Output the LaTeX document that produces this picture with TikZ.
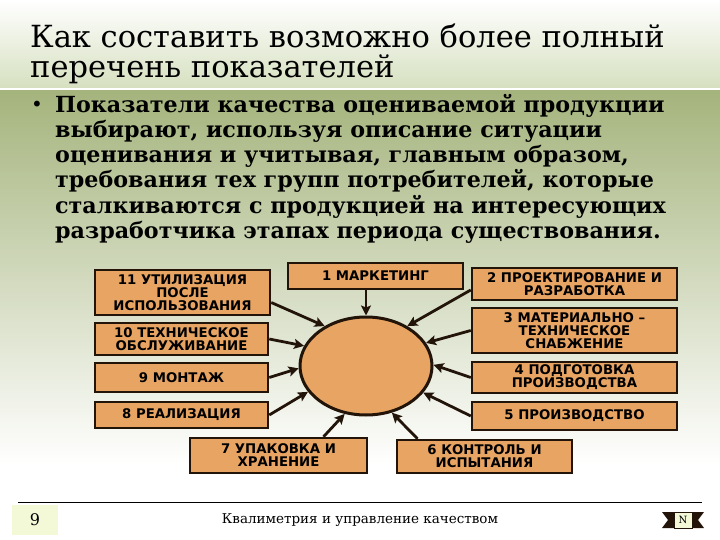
\documentclass[tikz,border=0pt]{standalone}
\usepackage{fontspec}
\setmainfont{DejaVu Serif}
\newfontfamily\boxfont{DejaVu Sans}
\usepackage{tikz}
\usetikzlibrary{shapes.geometric, arrows.meta}

\definecolor{boxfill}{RGB}{232,164,98}
\definecolor{boxline}{RGB}{35,20,10}
\definecolor{olive}{RGB}{165,180,125}
\definecolor{titlegreen}{RGB}{214,224,192}
\definecolor{pagebox}{RGB}{243,248,215}

\tikzset{
  stage/.style={draw=boxline, fill=boxfill, line width=2.5pt, inner sep=0pt,
    align=center, font=\boxfont\bfseries\fontsize{13.3}{13}\selectfont},
  feed/.style={draw=boxline, line width=2.8pt, -{Stealth[length=10pt, width=10pt, inset=2pt]}}
}

\begin{document}
\begin{tikzpicture}[x=1pt, y=-1pt]
    \useasboundingbox (0, 0) rectangle (720, 540);
    % background
    \shade[top color=white, bottom color=titlegreen] (0, 0) rectangle (720, 88);
    \fill[white] (0, 88) rectangle (720, 91);
    \shade[top color=olive, bottom color=white] (0, 91) rectangle (720, 465);

    \node[anchor=north west, align=left, inner sep=0pt, font=\fontsize{30.5}{30}\selectfont] (title) at (30, 24)
        {Как составить возможно более полный\\перечень показателей};
    \node[anchor=base, font=\fontsize{20}{20}\selectfont] (bullet) at (37, 112) {•};
    \node[anchor=north west, align=left, inner sep=0pt, font=\bfseries\fontsize{22.2}{25.2}\selectfont] (text) at (55, 94)
        {Показатели качества оцениваемой продукции\\
         выбирают, используя описание ситуации\\
         оценивания и учитывая, главным образом,\\
         требования тех групп потребителей, которые\\
         сталкиваются с продукцией на интересующих\\
         разработчика этапах периода существования.};

    % stages
    \node[draw=boxline, fill=boxfill, line width=3pt, ellipse, minimum width=132, minimum height=98] (center) at (366, 366) {};
    \node[stage, minimum width=175, minimum height=26] (b1) at (375.5, 276) {1 МАРКЕТИНГ};
    \node[stage, minimum width=205, minimum height=32] (b2) at (574.5, 284) {2 ПРОЕКТИРОВАНИЕ И\\РАЗРАБОТКА};
    \node[stage, minimum width=205, minimum height=45] (b3) at (574.5, 330.5) {3 МАТЕРИАЛЬНО –\\ТЕХНИЧЕСКОЕ\\СНАБЖЕНИЕ};
    \node[stage, minimum width=205, minimum height=31] (b4) at (574.5, 377.5) {4 ПОДГОТОВКА\\ПРОИЗВОДСТВА};
    \node[stage, minimum width=205, minimum height=28] (b5) at (574.5, 416) {5 ПРОИЗВОДСТВО};
    \node[stage, minimum width=175, minimum height=33] (b6) at (484.5, 456.5) {6 КОНТРОЛЬ И\\ИСПЫТАНИЯ};
    \node[stage, minimum width=177, minimum height=35] (b7) at (278.5, 455.5) {7 УПАКОВКА И\\ХРАНЕНИЕ};
    \node[stage, minimum width=173, minimum height=26] (b8) at (181.5, 415) {8 РЕАЛИЗАЦИЯ};
    \node[stage, minimum width=173, minimum height=29] (b9) at (181.5, 377.5) {9 МОНТАЖ};
    \node[stage, minimum width=173, minimum height=32] (b10) at (181.5, 339) {10 ТЕХНИЧЕСКОЕ\\ОБСЛУЖИВАНИЕ};
    \node[stage, minimum width=175, minimum height=45] (b11) at (182.5, 292.5) {11 УТИЛИЗАЦИЯ\\ПОСЛЕ\\ИСПОЛЬЗОВАНИЯ};

    \draw[feed] (b1.south -| center.north) -- (center.north);
    \draw[feed] ([yshift=-6pt]b2.west) -- (center.44);
    \draw[feed] (b3.west) -- (center.21);
    \draw[feed] (b4.west) -- (center.1);
    \draw[feed] (b5.west) -- (center.335);
    \draw[feed] ([xshift=-67pt]b6.north) -- (center.299);
    \draw[feed] ([xshift=45pt]b7.north) -- (center.246);
    \draw[feed] (b8.east) -- (center.204);
    \draw[feed] (b9.east) -- (center.182);
    \draw[feed] (b10.east) -- (center.162);
    \draw[feed] ([yshift=-10pt]b11.east) -- (center.136);

    % footer
    \draw[line width=0.8pt] (18, 502) -- (702, 502);
    \node[fill=pagebox, minimum width=46, minimum height=30, font=\fontsize{16}{16}\selectfont] (page) at (35, 520) {9};
    \node[font=\fontsize{13.5}{14}\selectfont] (course) at (360, 520) {Квалиметрия и управление качеством};
    \fill[boxline] (662, 512) -- (676, 512) -- (676, 528) -- (662, 528) -- (668, 520) -- cycle;
    \fill[boxline] (704, 512) -- (690, 512) -- (690, 528) -- (704, 528) -- (698, 520) -- cycle;
    \node[draw=boxline, fill=pagebox, minimum width=18, minimum height=16, inner sep=0pt, font=\fontsize{10}{10}\selectfont] (nav) at (683, 520) {N};
\end{tikzpicture}
\end{document}
